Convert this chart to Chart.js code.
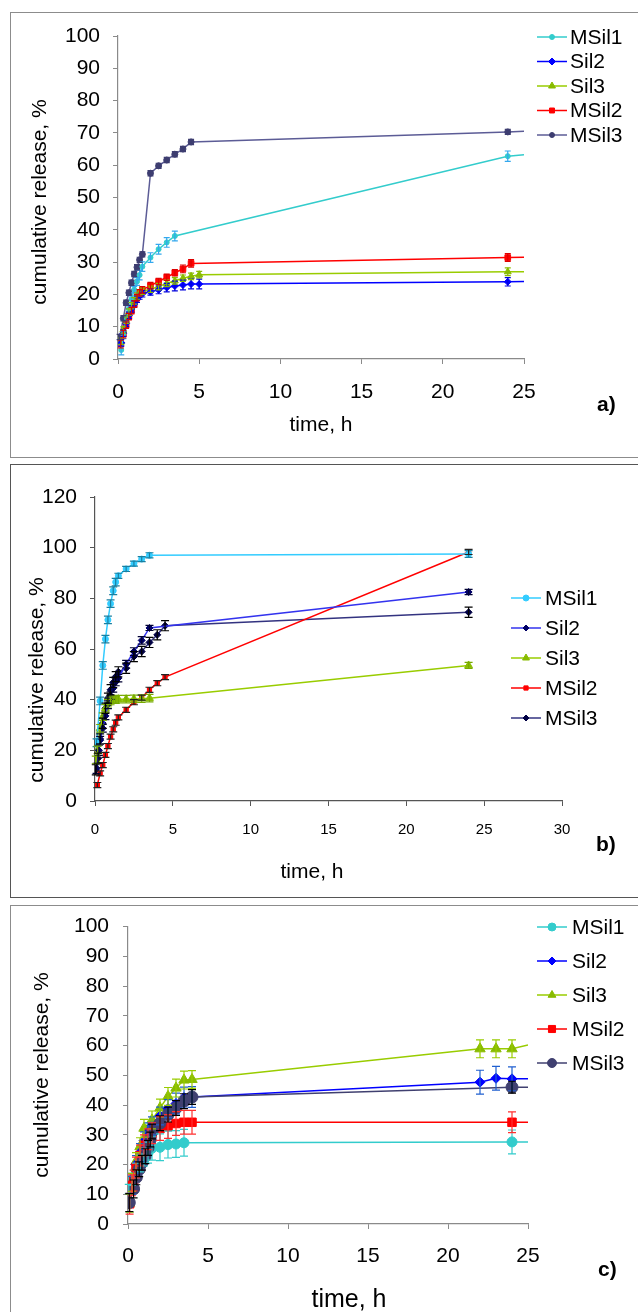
<!DOCTYPE html>
<html>
<head>
<meta charset="utf-8">
<script src="https://cdn.jsdelivr.net/npm/chart.js@4"></script>
<style>
body{margin:0;background:#fff;width:638px;height:1312px;position:relative;overflow:hidden}
.frame{position:absolute;left:10px;width:640px;box-sizing:border-box}
#fa{top:12px;height:446px;border:1.5px solid #8c8c8c}
#fb{top:464px;height:434px;border:1.5px solid #555}
#fc{top:905px;height:430px;border:1.5px solid #8c8c8c}
canvas{position:absolute;left:0}
</style>
</head>
<body>
<div class="frame" id="fa"></div>
<div class="frame" id="fb"></div>
<div class="frame" id="fc"></div>
<canvas id="ca" width="638" height="460" style="top:0"></canvas>
<canvas id="cb" width="638" height="440" style="top:460px"></canvas>
<canvas id="cc" width="638" height="412" style="top:900px"></canvas>
<script>
const seriesNames = ['MSil1','Sil2','Sil3','MSil2','MSil3'];

// ---- panel a ----
const aT_MSil1 = [0.2,0.33,0.5,0.67,0.83,1,1.17,1.33,1.5,2,2.5,3,3.5,24,25];
const aV_MSil1 = [2.8,7.5,12,15.5,18.5,21.5,24,26,28.6,31.4,34,36.1,38.1,62.8,63.2];
const aE_MSil1 = [1.5,1.2,1,1,1,1,1.2,1.5,1.5,1.5,1.5,1.5,1.5,1.6,null];
const aT_Sil2 = [0.2,0.33,0.5,0.67,0.83,1,1.17,1.33,1.5,2,2.5,3,3.5,4,4.5,5,24,25];
const aV_Sil2 = [5,8,11,13.5,15.5,17,18.5,19.5,20.2,20.8,21.4,22.1,22.6,22.9,23.2,23.2,23.9,24];
const aE_Sil2 = [1,1,1,1,1,1,1,1,1,1,1.2,1.3,1.5,1.5,1.5,1.5,1.3,null];
const aT_Sil3 = [0.2,0.33,0.5,0.67,0.83,1,1.17,1.33,1.5,2,2.5,3,3.5,4,4.5,5,24,25];
const aV_Sil3 = [5.5,9,12,14.5,16.5,18,19.5,20.5,21,21.6,22.4,23.4,24.2,25,25.6,26.1,27,27];
const aE_Sil3 = [1,1,1,1,1,1,1,1,1,1,1,1,1,1,1,1,1.2,null];
const aT_MSil2 = [0.17,0.33,0.5,0.67,0.83,1,1.17,1.33,1.5,2,2.5,3,3.5,4,4.5,24,25];
const aV_MSil2 = [4.6,7.7,10.5,13.1,15,17,19,20.5,21.4,22.7,24,25.3,26.7,27.9,29.6,31.4,31.5];
const aE_MSil2 = [1.2,1.2,1,1,1,1,1,1,1,1,1,1,1,1.2,1.2,1.2,null];
const aT_MSil3 = [0.1,0.33,0.5,0.67,0.83,1,1.17,1.33,1.5,2,2.5,3,3.5,4,4.5,24,25];
const aV_MSil3 = [6.8,12.6,17.4,20.5,23.6,26.3,28.4,30.7,32.4,57.5,59.8,61.6,63.4,65,67.2,70.3,70.5];
const aE_MSil3 = [0.8,0.8,0.8,0.8,0.8,0.8,0.8,0.8,0.8,0.8,0.8,0.8,0.8,0.8,0.8,0.8,null];

// ---- panel b ----
const bT_MSil1 = [0.1,0.33,0.5,0.67,0.83,1,1.17,1.33,1.5,2,2.5,3,3.5,24];
const bV_MSil1 = [23,39.5,53.5,63.9,71.5,77.9,83,86.4,88.9,91.6,93.7,95.5,97,97.5];
const bE_MSil1 = [1.5,1.5,1.5,1.5,1.5,1.5,1.5,1.5,1,1,1,1,1,1.3];
const bT_Sil2 = [0.1,0.25,0.33,0.5,0.67,0.83,1,1.17,1.33,1.5,2,2.5,3,3.5,24];
const bV_Sil2 = [12.9,20,24,28.7,33.6,38,41.6,44.5,47,48.5,54,59,63.4,68.3,82.5];
const bE_Sil2 = [2,2,1.5,1.5,1.5,1.5,1.5,1.5,1.5,1.5,1.5,1.5,1.5,1,1];
const bT_Sil3 = [0.05,0.17,0.33,0.5,0.67,0.83,1,1.17,1.33,1.5,2,2.5,3,3.5,24];
const bV_Sil3 = [16.2,20.2,28.7,33.3,36.6,38.6,39.5,40,40,40.2,40.2,40.3,40.4,40.6,53.5];
const bE_Sil3 = [1.5,1.5,1.5,1.5,1.5,1.5,1.5,1.5,1.5,1.5,1.5,1.5,1.5,1.5,1.2];
const bT_MSil2 = [0.15,0.33,0.5,0.67,0.83,1,1.17,1.33,1.5,2,2.5,3,3.5,4,4.5,24];
const bV_MSil2 = [6.3,10.9,14.2,18.2,21.7,25.4,28.3,30.9,33,36,39,40.8,43.9,46.5,48.9,98.3];
const bE_MSil2 = [1,1,1,1,1,1,1,1,1,1,1,1,1,1,1,1];
const bT_MSil3 = [0.05,0.2,0.33,0.5,0.67,0.83,1,1.17,1.33,1.5,2,2.5,3,3.5,4,4.5,24];
const bV_MSil3 = [12.3,16.9,24.5,30.7,36.6,40.6,43.9,46.8,49.1,51,52.4,57,59,62.6,65.6,69.2,74.5];
const bE_MSil3 = [2,2,2,2,2,2,2,2,2,2,2,2,2,2,2,2,2];

// ---- panel c ----
const cT_MSil1 = [0.05,0.25,0.5,0.75,1,1.25,1.5,2,2.5,3,3.5,24,25];
const cV_MSil1 = [11.8,15,18,20.5,22.5,24,25.5,25.8,26.7,26.9,27.3,27.6,27.6];
const cE_MSil1 = [1.5,2,2.5,3,3,3.5,4,4.5,4.5,4.5,4.5,4,null];
const cT_Sil2 = [0.1,0.25,0.5,0.75,1,1.25,1.5,2,2.5,3,3.5,4,22,23,24,25];
const cV_Sil2 = [7,13,20,24,28,31,33,36.3,38.8,40.5,42.5,42.7,47.7,49,48.8,48.8];
const cE_Sil2 = [3,3,3,3,3,3,3,3,3,3.5,3.5,3.5,4,4,4,null];
const cT_Sil3 = [0.1,0.25,0.5,0.75,1,1.5,2,2.5,3,3.5,4,22,23,24,25];
const cV_Sil3 = [7,14,21,26,32.2,35,39,42.9,45.7,48.4,48.6,58.9,58.9,58.9,60.2];
const cE_Sil3 = [3,3,3,3,3,3,3,3,3,3,3,3,3,3,null];
const cT_MSil2 = [0.1,0.25,0.35,0.5,0.75,1,1.25,1.5,2,2.5,3,3.5,4,24,25];
const cV_MSil2 = [6.8,13,14.6,19,23,26.5,28.5,30.5,32.1,32.8,33.8,34.2,34.2,34.2,34.2];
const cE_MSil2 = [3.5,3.5,3.5,3.5,3.5,3.5,3.5,3.5,4,4,4,4,4,3.5,null];
const cT_MSil3 = [0.08,0.35,0.52,0.7,0.87,1.08,1.25,1.39,1.5,2,2.5,3,3.5,4,24,25];
const cV_MSil3 = [7.2,11.8,15.7,18.4,20.6,22.8,25.6,28.4,31.1,33.9,36.8,39,41.3,42.7,46,46];
const cE_MSil3 = [3,3,2.5,2.5,2.5,2.5,2.5,2.5,2.5,2.5,2.5,2.5,2.5,2.5,2,null];

const FONT = 'Arial, "Liberation Sans", sans-serif';

const errorBars = {
  id:'errorBars',
  afterDatasetsDraw(chart){
    const ctx=chart.ctx, y=chart.scales.y;
    chart.data.datasets.forEach((ds,i)=>{
      if(!ds.errors) return;
      const meta=chart.getDatasetMeta(i);
      ctx.save(); ctx.strokeStyle=ds.errColor; ctx.lineWidth=1.2;
      meta.data.forEach((pt,j)=>{
        const e=ds.errors[j]; if(e==null) return;
        const v=ds.data[j].y, x=pt.x, w=ds.capW;
        const t=y.getPixelForValue(v+e), b=y.getPixelForValue(v-e);
        ctx.beginPath();
        ctx.moveTo(x,t); ctx.lineTo(x,b);
        ctx.moveTo(x-w,t); ctx.lineTo(x+w,t);
        ctx.moveTo(x-w,b); ctx.lineTo(x+w,b);
        ctx.stroke();
      });
      ctx.restore();
    });
  }
};

const decor = {
  id:'decor',
  afterDraw(chart,args,o){
    const ctx=chart.ctx;
    ctx.save();
    ctx.fillStyle='#000'; ctx.textBaseline='middle';
    // y title
    ctx.save();
    ctx.translate(o.yTitle[0],o.yTitle[1]); ctx.rotate(-Math.PI/2);
    ctx.font=`21px ${FONT}`; ctx.textAlign='center';
    ctx.fillText('cumulative release, %',0,0);
    ctx.restore();
    // x title
    ctx.font=o.xFont; ctx.textAlign='center';
    ctx.fillText('time, h',o.xTitle[0],o.xTitle[1]);
    // panel letter
    ctx.font=`bold 21px ${FONT}`; ctx.textAlign='left';
    ctx.fillText(o.tag,o.tagPos[0],o.tagPos[1]);
    // legend
    chart.data.datasets.forEach((ds,i)=>{
      const yy=o.legY+i*o.legDy;
      ctx.strokeStyle=ds.borderColor; ctx.lineWidth=ds.borderWidth;
      ctx.beginPath(); ctx.moveTo(o.legX,yy); ctx.lineTo(o.legX+30,yy); ctx.stroke();
      ctx.fillStyle=ds.pointBackgroundColor; ctx.strokeStyle=ds.pointBorderColor; ctx.lineWidth=1;
      Chart.helpers.drawPoint(ctx,{pointStyle:ds.pointStyle,radius:ds.legR,rotation:0,borderWidth:1},o.legX+15,yy);
      ctx.fillStyle='#000'; ctx.font=`21px ${FONT}`; ctx.textAlign='left';
      ctx.fillText(ds.label,o.legX+o.legGap,yy+1);
    });
    ctx.restore();
  }
};

function series(t,v,e,s){
  return {
    label:s.name,
    data:t.map((x,i)=>({x:x,y:v[i]})),
    errors:e, errColor:s.err, capW:s.cap,
    borderColor:s.line, borderWidth:s.lw||1.5,
    pointBackgroundColor:s.point, pointBorderColor:s.point,
    pointStyle:s.style, legR:s.legR,
    pointRadius:c=>(c.raw && c.raw.x>24.5)?0:s.r,
    pointBorderWidth:1,
    tension:0,
    order:s.order||0
  };
}

function panel(id,P,datasets){
  new Chart(document.getElementById(id),{
    type:'line',
    data:{datasets},
    options:{
      responsive:false, animation:false, devicePixelRatio:1,
      layout:{padding:{left:0,top:P.top,right:P.right,bottom:0}},
      plugins:{legend:{display:false},tooltip:{enabled:false},decor:P.decor},
      scales:{
        x:{type:'linear',min:0,max:P.xMax,afterFit:s=>{s.height=P.xH;},
          ticks:{stepSize:5,color:'#000',font:{family:FONT,size:P.xTickSize},padding:P.xPad,maxRotation:0},
          grid:{drawOnChartArea:false,tickLength:5,color:P.axis},border:{color:P.axis,width:1.2}},
        y:{min:0,max:P.yMax,afterFit:s=>{s.width=P.yW;},
          ticks:{stepSize:P.yStep,color:'#000',font:{family:FONT,size:21},padding:P.yPad},
          grid:{drawOnChartArea:false,tickLength:5,color:P.axis},border:{color:P.axis,width:1.2}}
      }
    },
    plugins:[errorBars,decor]
  });
}

panel('ca',{top:36,right:114,xH:101,yW:118,xMax:25,yMax:100,yStep:10,xTickSize:21,xPad:16,yPad:13,axis:'#8a8a8a',
  decor:{yTitle:[40,202],xTitle:[321,425],xFont:`21px ${FONT}`,tag:'a)',tagPos:[597,405],legX:537,legY:37,legDy:24.5,legGap:33}},
[
  series(aT_MSil1,aV_MSil1,aE_MSil1,{name:'MSil1',line:'#33cccc',point:'#33cccc',err:'#33a8ee',cap:3,style:'circle',r:2.5,legR:2.5}),
  series(aT_Sil2,aV_Sil2,aE_Sil2,{name:'Sil2',line:'#0000ff',point:'#0000ff',err:'#0000dd',cap:3,style:'rectRot',r:3.5,legR:3.5}),
  series(aT_Sil3,aV_Sil3,aE_Sil3,{name:'Sil3',line:'#99cc00',point:'#88bb00',err:'#88bb00',cap:3,style:'triangle',r:4,legR:4}),
  series(aT_MSil2,aV_MSil2,aE_MSil2,{name:'MSil2',line:'#ff0000',point:'#ff0000',err:'#dd0000',cap:3,style:'rect',r:4,legR:3.5}),
  series(aT_MSil3,aV_MSil3,aE_MSil3,{name:'MSil3',line:'#5c5c96',point:'#3d3d70',err:'#3d3d70',cap:3,style:'circle',r:3,legR:2.5})
]);

panel('cb',{top:37,right:76,xH:99,yW:95,xMax:30,yMax:120,yStep:20,xTickSize:15,xPad:15,yPad:13,axis:'#555',
  decor:{yTitle:[37,220],xTitle:[312,412],xFont:`21px ${FONT}`,tag:'b)',tagPos:[596,385],legX:511,legY:138,legDy:30,legGap:34}},
[
  series(bT_MSil1,bV_MSil1,bE_MSil1,{name:'MSil1',line:'#33ccff',point:'#33ccff',err:'#1a7fa0',cap:4,style:'circle',r:3,legR:3}),
  series(bT_Sil2,bV_Sil2,bE_Sil2,{name:'Sil2',line:'#3333ee',point:'#000066',err:'#000033',cap:4,style:'rectRot',r:3.5,legR:3}),
  series(bT_Sil3,bV_Sil3,bE_Sil3,{name:'Sil3',line:'#99cc00',point:'#88bb00',err:'#77aa00',cap:4,style:'triangle',r:4.5,legR:4}),
  series(bT_MSil2,bV_MSil2,bE_MSil2,{name:'MSil2',line:'#ff0000',point:'#ff0000',err:'#222',cap:4,style:'rect',r:3,legR:3}),
  series(bT_MSil3,bV_MSil3,bE_MSil3,{name:'MSil3',line:'#333380',point:'#000044',err:'#000',cap:4,style:'rectRot',r:3.5,legR:3})
]);

panel('cc',{top:22,right:110,xH:88,yW:128,xMax:25,yMax:100,yStep:10,xTickSize:21,xPad:15,yPad:14,axis:'#8a8a8a',
  decor:{yTitle:[42,175],xTitle:[349,400],xFont:`25px ${FONT}`,tag:'c)',tagPos:[598,370],legX:537,legY:27,legDy:34,legGap:35}},
[
  series(cT_MSil1,cV_MSil1,cE_MSil1,{name:'MSil1',line:'#33cccc',point:'#33cccc',err:'#33cccc',cap:4,style:'circle',r:5,legR:4,order:3}),
  series(cT_Sil2,cV_Sil2,cE_Sil2,{name:'Sil2',line:'#0000ff',point:'#0000ff',err:'#1f5fd0',cap:4,style:'rectRot',r:5,legR:4,order:2}),
  series(cT_Sil3,cV_Sil3,cE_Sil3,{name:'Sil3',line:'#99cc00',point:'#88bb00',err:'#99cc00',cap:4,style:'triangle',r:6,legR:4.5,order:4}),
  series(cT_MSil2,cV_MSil2,cE_MSil2,{name:'MSil2',line:'#ff0000',point:'#ff0000',err:'#ff3030',cap:4,style:'rect',r:6,legR:5,order:1}),
  series(cT_MSil3,cV_MSil3,cE_MSil3,{name:'MSil3',line:'#404070',point:'#404070',err:'#000',cap:4,style:'circle',r:6,legR:4.5,order:0})
]);
</script>
</body>
</html>
